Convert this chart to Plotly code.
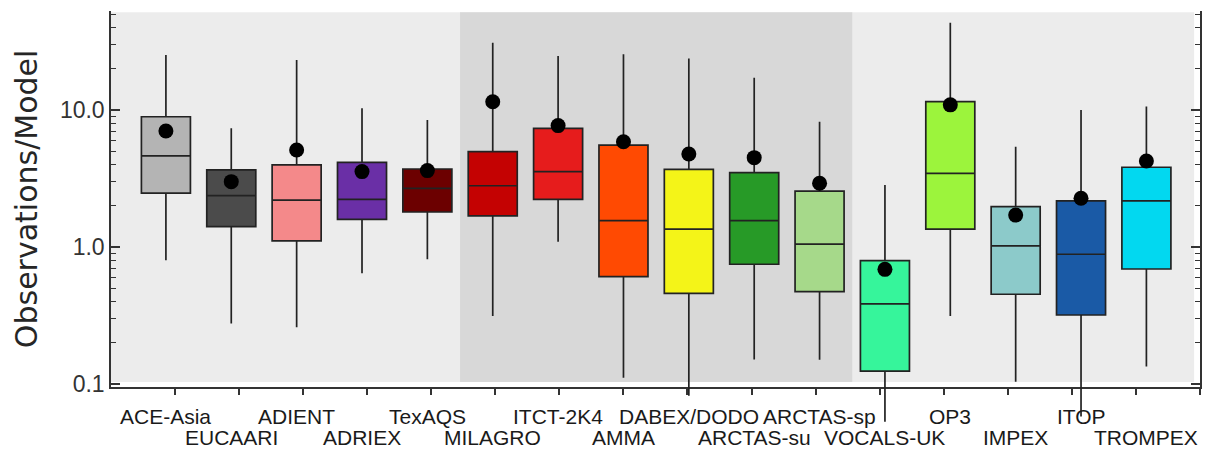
import numpy as np
import plotly.graph_objects as go

# ---- data: observed/modelled ratio statistics per field campaign ----
campaigns = ["ACE-Asia", "EUCAARI", "ADIENT", "ADRIEX", "TexAQS", "MILAGRO",
             "ITCT-2K4", "AMMA", "DABEX/DODO", "ARCTAS-su", "ARCTAS-sp",
             "VOCALS-UK", "OP3", "IMPEX", "ITOP", "TROMPEX"]
whisker_low = [0.80, 0.277, 0.259, 0.643, 0.813, 0.313, 1.09, 0.111,
               0.082, 0.151, 0.150, 0.053, 0.313, 0.104, 0.058, 0.134]
q1 = [2.47, 1.41, 1.11, 1.59, 1.80, 1.69, 2.23, 0.607,
      0.459, 0.748, 0.472, 0.124, 1.35, 0.452, 0.319, 0.691]
median = [4.62, 2.37, 2.20, 2.23, 2.68, 2.80, 3.55, 1.56,
          1.35, 1.56, 1.05, 0.384, 3.45, 1.02, 0.885, 2.17]
q3 = [8.93, 3.65, 3.97, 4.15, 3.71, 4.96, 7.35, 5.55,
      3.69, 3.49, 2.56, 0.794, 11.5, 1.97, 2.17, 3.82]
whisker_high = [25.2, 7.35, 23.2, 10.3, 8.45, 31.0, 24.8, 25.5,
                23.8, 17.2, 8.22, 2.84, 43.4, 5.40, 10.0, 10.6]
mean = [7.03, 3.0, 5.1, 3.55, 3.61, 11.5, 7.69, 5.87,
        4.77, 4.49, 2.92, 0.687, 10.9, 1.71, 2.27, 4.24]
box_colors = ["#b4b4b4", "#4b4b4b", "#f4898a", "#6a2fa6", "#6c0000", "#c40202",
              "#e61c1c", "#ff4a02", "#f4f418", "#279a27", "#a6d98a",
              "#36f59b", "#9cf43c", "#8ccaca", "#1a5aa6", "#02d8f0"]
y_tick_vals = [0.1, 1, 10]
y_tick_text = ["0.1", "1.0", "10.0"]
y_title = "Observations/Model"

# ---- geometry ----
W, H = 1212, 465
M_L, M_R, M_T, M_B = 111, 10, 11, 40
AXIS_BOTTOM_PX = 387            # where the frame's bottom line sits
PX_PER_DECADE = 137.0
plot_h = H - M_T - M_B

X_MIN, X_MAX = -0.84, 15.82
Y_TOP = 1.7226                  # log10 of the top edge
y_low_full = Y_TOP - plot_h / PX_PER_DECADE              # boxes may spill below frame
frame_frac = (H - M_B - AXIS_BOTTOM_PX) / plot_h
y_low_frame = Y_TOP - (AXIS_BOTTOM_PX - M_T) / PX_PER_DECADE

x_pos = list(range(len(campaigns)))
frame_ticks = np.linspace(0.137, X_MAX, 17)

fig = go.Figure()

for i, name in enumerate(campaigns):
    fig.add_trace(go.Box(
        x=[x_pos[i]], q1=[q1[i]], median=[median[i]], q3=[q3[i]],
        lowerfence=[whisker_low[i]], upperfence=[whisker_high[i]],
        name=name, fillcolor=box_colors[i],
        line=dict(color="#222222", width=1.7),
        width=0.75, whiskerwidth=0, boxpoints=False,
        xaxis="x2", yaxis="y2", showlegend=False, hoverinfo="skip",
    ))

fig.add_trace(go.Scatter(
    x=x_pos, y=mean, mode="markers",
    marker=dict(color="black", size=15),
    xaxis="x2", yaxis="y2", showlegend=False, hoverinfo="skip",
))

bg_bottom = 10 ** -0.985
bg_top = 10 ** (Y_TOP - 0.01)
shapes = [
    # panel background and the shaded campaign block
    dict(type="rect", xref="x", yref="y", layer="below",
         x0=X_MIN, x1=15.73, y0=bg_bottom, y1=bg_top,
         fillcolor="#ececec", line=dict(width=0)),
    dict(type="rect", xref="x", yref="y", layer="below",
         x0=4.5, x1=10.5, y0=bg_bottom, y1=bg_top,
         fillcolor="#d8d8d8", line=dict(width=0)),
    # unity reference
    dict(type="line", xref="x domain", yref="y", layer="below",
         x0=0, x1=1, y0=1, y1=1, line=dict(color="#6e6e6e", width=1.5)),
]

annotations = []
for i, name in enumerate(campaigns):
    row_px = 416 if i % 2 == 0 else 437.5
    annotations.append(dict(
        x=x_pos[i], xref="x2", y=(H - M_B - row_px) / plot_h, yref="paper",
        text=name, showarrow=False, xanchor="center", yanchor="middle",
        font=dict(family="Liberation Sans, Arial", size=21, color="#1a1a1a"),
    ))
annotations.append(dict(
    x=(26 - M_L) / (W - M_L - M_R), xref="paper",
    y=(H - M_B - 199) / plot_h, yref="paper",
    text=y_title, textangle=-90, showarrow=False,
    xanchor="center", yanchor="middle",
    font=dict(family="DejaVu Sans", size=30, color="#262626"),
))

fig.update_layout(
    width=W, height=H,
    margin=dict(l=M_L, r=M_R, t=M_T, b=M_B),
    paper_bgcolor="white", plot_bgcolor="rgba(0,0,0,0)",
    boxmode="overlay", showlegend=False,
    shapes=shapes, annotations=annotations,
    xaxis=dict(domain=[0, 1], anchor="y", range=[X_MIN, X_MAX],
               tickmode="array", tickvals=frame_ticks, showticklabels=False,
               ticks="outside", ticklen=6, tickwidth=1.5, tickcolor="#333333",
               showline=True, linecolor="#333333", linewidth=1.5,
               showgrid=False, zeroline=False),
    yaxis=dict(domain=[frame_frac, 1], anchor="x", type="log",
               range=[y_low_frame, Y_TOP],
               tickmode="array", tickvals=y_tick_vals, ticktext=y_tick_text,
               ticks="inside", ticklen=9, tickwidth=1.5, tickcolor="#333333",
               minor=dict(ticks="inside", ticklen=5, tickwidth=1.2,
                          tickcolor="#333333", dtick="D1", showgrid=False),
               tickfont=dict(family="Liberation Sans, Arial", size=23,
                             color="#333333"),
               showline=True, mirror="ticks", linecolor="#333333",
               linewidth=1.5, showgrid=False, zeroline=False),
    xaxis2=dict(domain=[0, 1], anchor="y2", range=[X_MIN, X_MAX],
                visible=False),
    yaxis2=dict(domain=[0, 1], anchor="x2", type="log",
                range=[y_low_full, Y_TOP], visible=False),
)

fig.write_html("out.html")
